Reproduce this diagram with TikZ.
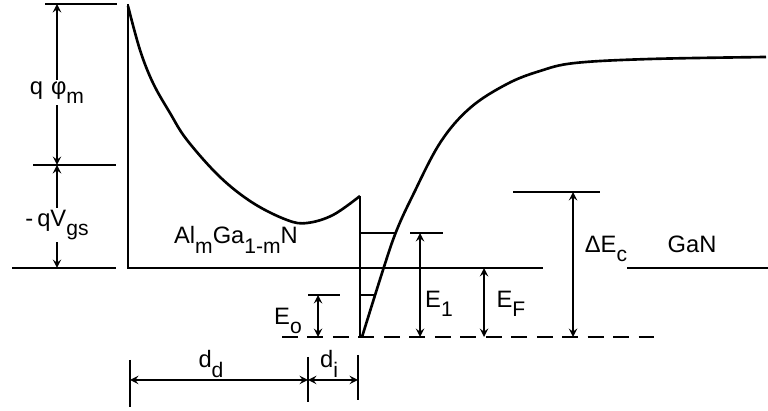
\documentclass[tikz,border=0pt]{standalone}
\usepackage{fontspec}
\setmainfont{Liberation Sans}
\usetikzlibrary{arrows}
\tikzstyle{bandline} = [
    line width=1.5pt
]
\tikzstyle{statelevel} = [
    line width=1.3pt
]
\tikzstyle{dimline} = [
    line width=1.1pt,
    <->,
    >=stealth
]
\tikzstyle{refline} = [
    line width=1.3pt,
    dash pattern=on 9pt off 5.5pt
]
\tikzstyle{bandtext} = [
    font=\fontsize{13.5}{15}\selectfont,
    inner sep=1pt
]
\newcommand{\lowidx}[1]{\raisebox{-0.75ex}{\fontsize{12}{13}\selectfont #1}}

\begin{document}
\begin{tikzpicture}[x=0.02cm, y=-0.02cm]
\useasboundingbox (0,0) rectangle (768,411);

% levels at the gate
\draw [statelevel] (45,4) -- (117,4);
\draw [statelevel] (33,165) -- (116,165);
\draw [statelevel] (12,268) -- (116,268);

\coordinate (phitop) at (57,4);
\coordinate (phimid) at (57,165);
\coordinate (philow) at (57,268);

\draw [dimline] (phitop) -- (phimid)
    node (qphim) [bandtext, fill=white, pos=0.55] {q\,\,φ\lowidx{m}};
\draw [dimline] (phimid) -- (philow)
    node (qvgs) [bandtext, fill=white, pos=0.58] {-\,qV\lowidx{gs}};

% AlGaN barrier
\draw [bandline] (128,4) -- (128,268) -- (543,268);
\draw [bandline] plot [smooth, tension=0.6] coordinates {
    (128,6) (140,50) (153,83) (170,113) (187,140) (220,177)
    (253,203) (287,220) (307,223) (333,215) (360,196)};
\draw [bandline] (360,196) -- (360,337);

\node (algan) [bandtext] at (236,240) {Al\lowidx{m}Ga\lowidx{1-m}N};

% GaN conduction band
\draw [bandline] plot [smooth, tension=0.6] coordinates {
    (362,337) (383,270) (396,232) (412,197) (440,143) (470,108)
    (507,84) (540,71) (575,63) (650,59) (766,57)};
\draw [bandline] (627,268) -- (768,268);

\node (gan) [bandtext] at (692,244) {GaN};

% subbands
\draw [statelevel] (360,233) -- (396,233);
\draw [statelevel] (360,295) -- (375,295);

\draw [refline] (282,337) -- (655,337);

% E0
\coordinate (eotop) at (318,295);
\coordinate (eobot) at (318,337);
\draw [statelevel] (308,295) -- (340,295);
\draw [dimline] (eotop) -- (eobot);
\node (eo) [bandtext] at (288,321) {E\lowidx{o}};

% E1
\coordinate (eitop) at (420,233);
\coordinate (eibot) at (420,337);
\draw [statelevel] (410,233) -- (443,233);
\draw [dimline] (eitop) -- (eibot);
\node (ei) [bandtext] at (439,304) {E\lowidx{1}};

% EF
\coordinate (eftop) at (484,268);
\coordinate (efbot) at (484,337);
\draw [dimline] (eftop) -- (efbot);
\node (ef) [bandtext] at (511,304) {E\lowidx{F}};

% Delta Ec
\coordinate (dectop) at (573,192);
\coordinate (decbot) at (573,337);
\draw [statelevel] (513,192) -- (600,192);
\draw [dimline] (dectop) -- (decbot);
\node (dec) [bandtext] at (606,249) {ΔE\lowidx{c}};

% thicknesses
\coordinate (ddleft) at (130,380);
\coordinate (ddright) at (308,380);
\coordinate (diright) at (358,380);
\draw [statelevel] (130,360) -- (130,407);
\draw [statelevel] (308,357) -- (308,402);
\draw [statelevel] (358,355) -- (358,400);
\draw [dimline] (ddleft) -- (ddright);
\draw [dimline] (ddright) -- (diright);
\node (dd) [bandtext] at (211,364) {d\lowidx{d}};
\node (di) [bandtext] at (329,364) {d\lowidx{i}};

\end{tikzpicture}
\end{document}
